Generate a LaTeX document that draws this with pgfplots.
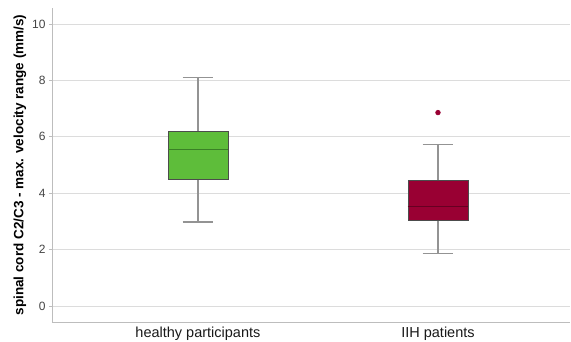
\documentclass[border=0pt]{standalone}
\usepackage{pgfplots}
\pgfplotsset{compat=1.18}
\usepgfplotslibrary{statistics}
\usepackage{fontspec}
\setmainfont{Liberation Sans}
\definecolor{gfill}{HTML}{5EBD3A}
\definecolor{gmed}{HTML}{3A8026}
\definecolor{rfill}{HTML}{990033}
\definecolor{rmed}{HTML}{660022}
\definecolor{gridc}{HTML}{DCDCDC}
\definecolor{axc}{HTML}{BDBDBD}
\definecolor{whc}{HTML}{939393}
\definecolor{tickc}{HTML}{444444}
\begin{document}
\begin{tikzpicture}
\path[use as bounding box] (0,0) rectangle (571pt,341pt);
\begin{axis}[
  at={(52pt,19pt)}, anchor=south west,
  scale only axis, width=518pt, height=314pt,
  xmin=0.392, xmax=2.55, ymin=-0.57, ymax=10.57,
  axis x line*=bottom, axis y line*=left,
  axis line style={axc, line width=0.8pt},
  xtick={1,2}, xticklabels={healthy participants, IIH patients},
  ytick={0,2,...,10},
  ymajorgrids, grid style={gridc, line width=0.8pt},
  major tick length=3pt, tick align=outside,
  tick style={axc, line width=0.8pt},
  xtick style={draw=none},
  /pgf/number format/assume math mode=true,
  yticklabel style={font=\fontsize{12}{14}\selectfont, text=tickc},
  xticklabel style={font=\fontsize{14.5}{16}\selectfont, text=black!90, yshift=1.5pt},
  ylabel={\textbf{spinal cord C2/C3 - max. velocity range (mm/s)}},
  ylabel style={at={(axis description cs:-0.0618,0.5)}, anchor=center, font=\fontsize{13.5}{15}\selectfont},
  boxplot/every whisker/.style={draw=whc, line width=1.3pt},
]
\addplot+[
  boxplot prepared={lower whisker=2.98, lower quartile=4.48, median=5.55, upper quartile=6.2, upper whisker=8.1, draw position=1, draw direction=y, box extend=0.25, whisker extend=0.125},
  solid, draw=black!70, line width=0.7pt, fill=gfill,
  boxplot/every median/.style={draw=gmed, line width=1.5pt},
] coordinates {};
\addplot+[
  boxplot prepared={lower whisker=1.85, lower quartile=3.02, median=3.53, upper quartile=4.47, upper whisker=5.73, draw position=2, draw direction=y, box extend=0.25, whisker extend=0.125},
  solid, draw=black!70, line width=0.7pt, fill=rfill,
  boxplot/every median/.style={draw=rmed, line width=1.5pt},
  mark=*, mark size=2.3pt, mark options={fill=rfill, draw=rfill},
] coordinates {(2,6.86)};
\end{axis}
\end{tikzpicture}
\end{document}
